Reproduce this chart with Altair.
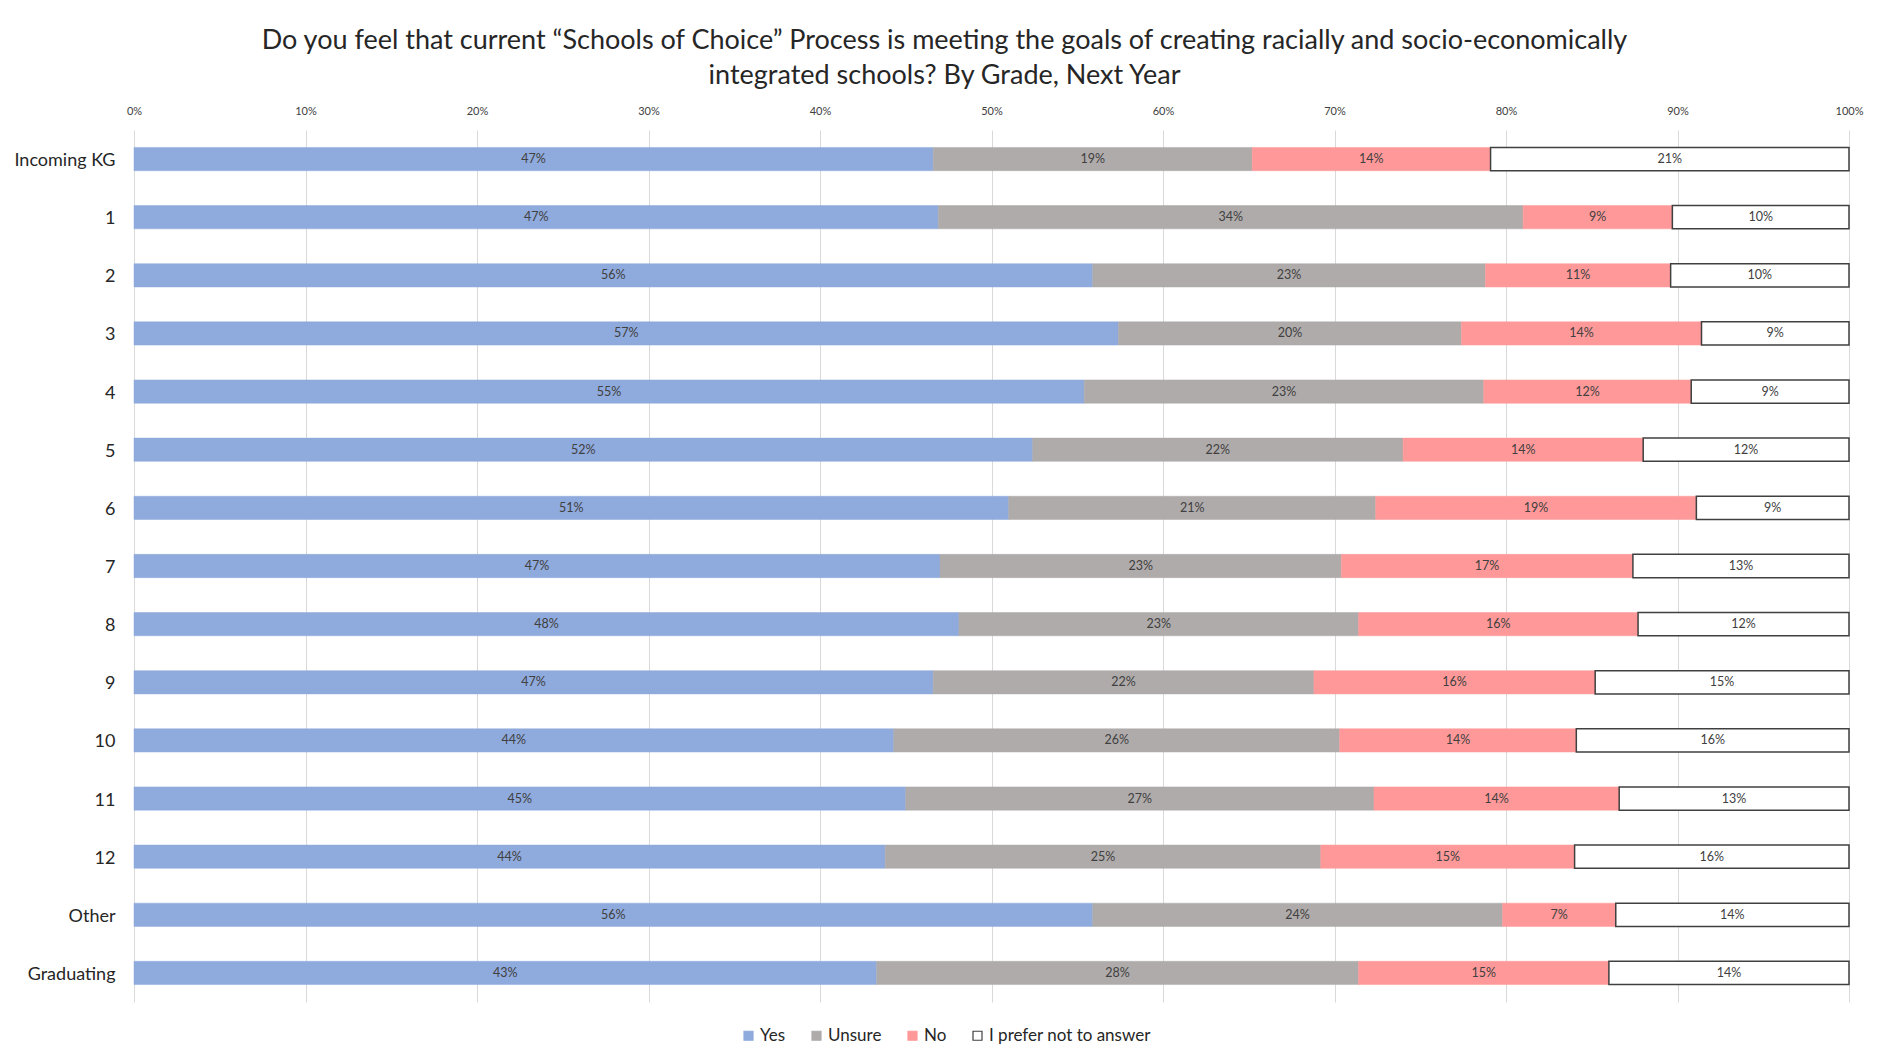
import altair as alt
import pandas as pd

grades = ["Incoming KG", "1", "2", "3", "4", "5", "6", "7", "8", "9", "10", "11", "12", "Other", "Graduating"]
responses = ["Yes", "Unsure", "No", "I prefer not to answer"]
colors = ["#8FAADC", "#AFABAB", "#FF9999", "#FFFFFF"]
edge_colors = ["#8FAADC", "#AFABAB", "#FF9999", "#404040"]

yes =    [46.6, 46.9, 55.9, 57.4, 55.4, 52.4, 51.0, 47.0, 48.1, 46.6, 44.3, 45.0, 43.8, 55.9, 43.3]
unsure = [18.6, 34.1, 22.9, 20.0, 23.3, 21.6, 21.4, 23.4, 23.3, 22.2, 26.0, 27.3, 25.4, 23.9, 28.1]
no =     [13.9,  8.7, 10.8, 14.0, 12.1, 14.0, 18.7, 17.0, 16.3, 16.4, 13.8, 14.3, 14.8,  6.6, 14.6]
prefer = [20.9, 10.3, 10.4,  8.6,  9.2, 12.0,  8.9, 12.6, 12.3, 14.8, 15.9, 13.4, 16.0, 13.6, 14.0]

rows = []
for series, name, order in zip([yes, unsure, no, prefer], responses, range(4)):
    for g, v in zip(grades, series):
        rows.append({"grade": g, "response": name, "order": order,
                     "value": v / 100.0, "label": f"{round(v)}%"})
df = pd.DataFrame(rows)

FONT = "Lato"

base = alt.Chart(df).transform_stack(
    stack="value", groupby=["grade"], as_=["x0", "x1"],
    sort=[alt.SortField("order", order="ascending")]
).transform_calculate(mid="(datum.x0 + datum.x1) / 2")

yenc = alt.Y("grade:N", sort=grades, title=None,
             scale=alt.Scale(paddingInner=0.6, paddingOuter=0.3),
             axis=alt.Axis(domain=False, ticks=False, labelFont=FONT, labelFontSize=18,
                           labelColor="#262626", labelPadding=19, labelOffset=2))

legend = alt.Legend(title=None, orient="none", direction="horizontal",
                    legendX=606, legendY=897,
                    symbolType="square", symbolSize=81, symbolStrokeWidth=1.2,
                    labelFont=FONT, labelFontSize=17, labelColor="#262626",
                    labelLimit=0, columnPadding=22, labelOffset=3)

bars = base.mark_bar().encode(
    x=alt.X("x0:Q", scale=alt.Scale(domain=[0, 1], nice=False), title=None,
            axis=alt.Axis(orient="top", format=".0%", values=[i / 10 for i in range(11)],
                          domain=False, ticks=False, labelFont=FONT, labelFontSize=11,
                          labelFlush=False, labelColor="#404040", labelPadding=14, grid=True,
                          gridColor="#D9D9D9", gridWidth=1)),
    x2="x1:Q",
    y=yenc,
    color=alt.Color("response:N", scale=alt.Scale(domain=responses, range=colors),
                    sort=responses, legend=legend),
    stroke=alt.Stroke("response:N", scale=alt.Scale(domain=responses, range=edge_colors),
                      sort=responses, legend=legend),
    strokeWidth=alt.condition(alt.datum.response == "I prefer not to answer",
                              alt.value(1.5), alt.value(0.5)),
)

texts = base.mark_text(font=FONT, fontSize=12.5, color="#404040").encode(
    x=alt.X("mid:Q"),
    y=alt.Y("grade:N", sort=grades),
    text="label:N",
)

chart = alt.layer(bars, texts).properties(
    width=1715, height=872,
    padding={"left": 126, "top": 122, "right": 35, "bottom": 52},
    autosize=alt.AutoSizeParams(type="none"),
    title=alt.TitleParams(
        ["Do you feel that current \u201cSchools of Choice\u201d Process is meeting the goals of creating racially and socio-economically",
         "integrated schools? By Grade, Next Year"],
        font=FONT, fontSize=27, fontWeight="normal", color="#262626",
        anchor="middle", dx=-47, offset=15, lineHeight=35),
).configure_view(stroke=None)

chart.save("out.html", embed_options={"renderer": "svg", "actions": False})
